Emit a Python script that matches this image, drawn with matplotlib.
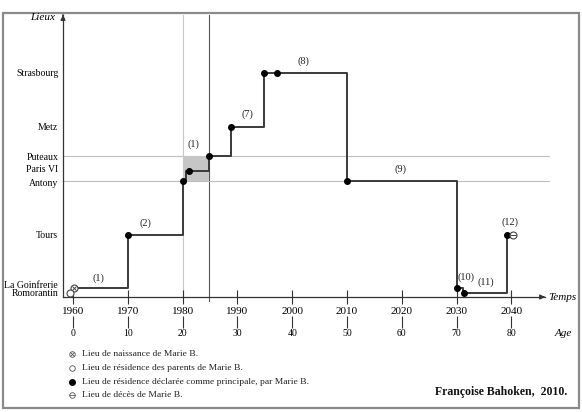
"""
Trajectoire résidentielle de Marie B. (lieux x temps / âge).
"""
import numpy as np
import matplotlib.pyplot as plt
from matplotlib.patches import Rectangle

plt.rcParams["font.family"] = ["Liberation Serif", "DejaVu Serif"]

# ---- data ----
places = ["Romorantin", "La Goinfrerie", "Tours", "Antony", "Paris VI", "Puteaux", "Metz", "Strasbourg"]
place_level = [4, 9, 62, 116, 126, 141, 170, 224]   # uneven place scale
LV = dict(zip(places, place_level))

# residential path (year of move, place)
path_years = [1960, 1970, 1980, 1980.6, 1984.8, 1988.8, 1994.9, 2010, 2030, 2031.2, 2039.2]
path_places = ["La Goinfrerie", "Tours", "Antony", "Paris VI", "Puteaux", "Metz",
               "Strasbourg", "Antony", "La Goinfrerie", "Romorantin", "Tours"]

# declared main residences
main_years = [1970, 1980, 1981.2, 1984.8, 1988.8, 1994.9, 1997.2, 2010, 2030, 2031.4, 2039.2]
main_places = ["Tours", "Antony", "Paris VI", "Puteaux", "Metz", "Strasbourg",
               "Strasbourg", "Antony", "La Goinfrerie", "Romorantin", "Tours"]

birth = (1960.2, "La Goinfrerie")
parents = (1959.5, "Romorantin")
death = (2040.3, "Tours")

seq_labels = ["(1)", "(2)", "(1)", "(7)", "(8)", "(9)", "(10)", "(11)", "(12)"]
seq_x = [1964.7, 1973.3, 1981.9, 1991.8, 2002.0, 2019.7, 2031.7, 2035.4, 2039.7]
seq_y = [14, 69, 148, 178, 231, 123, 15, 10, 70]

years = np.arange(1960, 2041, 10)
birth_year = 1960

legend_txt = ["Lieu de naissance de Marie B.",
              "Lieu de résidence des parents de Marie B.",
              "Lieu de résidence déclarée comme principale, par Marie B.",
              "Lieu de décès de Marie B."]

# ---- figure ----
W, H = 582, 412
fig = plt.figure(figsize=(W / 100, H / 100), dpi=100)
x0, x1, yb, yt = 63, 545, 297, 15
ax = fig.add_axes([x0 / W, 1 - yb / H, (x1 - x0) / W, (yb - yt) / H])
ppy = 5.48  # pixels per year
ax.set_xlim(1960 - (73 - x0) / ppy, 1960 + (x1 - 73) / ppy)
ax.set_ylim(0, yb - yt)

# outer frame
fig.add_artist(Rectangle((3 / W, 1 - 408 / H), 576 / W, 395 / H, transform=fig.transFigure,
                         fill=False, edgecolor="#8a8a8a", lw=1.6))

# reference lines and shaded block
ax.axvline(1980, color="#c8c8c8", lw=0.8, zorder=1)
ax.plot([1984.8, 1984.8], [-4, 282], color="#555555", lw=0.8, zorder=1, clip_on=False)
xr = ax.get_xlim()
for p in ["Puteaux", "Antony"]:
    ax.plot([xr[0], xr[1] + 0.7], [LV[p], LV[p]], color="#bdbdbd", lw=0.8, zorder=1, clip_on=False)
ax.add_patch(Rectangle((1980, LV["Antony"]), 4.8, LV["Puteaux"] - LV["Antony"],
                       facecolor="#c6c6c6", edgecolor="none", zorder=1.5))

# path
ax.step(path_years, [LV[p] for p in path_places], where="post", color="#3a3a3a", lw=1.4, zorder=3)
ax.scatter(main_years, [LV[p] for p in main_places], s=16, color="black", zorder=4)

# birth / parents / death symbols
ax.plot(birth[0], LV[birth[1]], marker="o", ms=5, mfc="white", mec="#444", mew=0.8, zorder=5, clip_on=False)
ax.plot(birth[0], LV[birth[1]], marker="x", ms=3, mec="#444", mew=0.7, zorder=6, clip_on=False)
ax.plot(parents[0], LV[parents[1]], marker="o", ms=5, mfc="white", mec="#444", mew=0.8, zorder=5, clip_on=False)
ax.plot(death[0], LV[death[1]], marker="o", ms=5, mfc="white", mec="#444", mew=0.8, zorder=5)
ax.plot(death[0], LV[death[1]], marker="_", ms=5, mec="#444", mew=0.7, zorder=6)

for s, x, y in zip(seq_labels, seq_x, seq_y):
    ax.text(x, y, s, fontsize=7.5, ha="center", va="bottom", color="#222")

# axes styling
for s in ["top", "right"]:
    ax.spines[s].set_visible(False)
for s in ["left", "bottom"]:
    ax.spines[s].set_color("#333")
    ax.spines[s].set_linewidth(0.9)

ax.set_yticks([LV[p] + d for p, d in zip(places, [0, 3, 0, -1, 2, 0, 0, 0])])
ax.set_yticklabels(places, fontsize=7)
ax.tick_params(axis="y", length=0, pad=3.5)

ax.set_xticks(years)
ax.set_xticklabels([str(y) for y in years], fontsize=8)
ax.tick_params(axis="x", direction="inout", length=10, width=0.8, color="#333", pad=2)

age_ax = ax.secondary_xaxis(-25 / (yb - yt), functions=(lambda y: y - birth_year, lambda a: a + birth_year))
age_ax.set_xticks(years - birth_year)
age_ax.spines["bottom"].set_visible(False)
age_ax.tick_params(direction="inout", length=8, width=0.8, color="#333", pad=1, labelsize=7)

# axis arrows and names
ax.annotate("", xy=(1, 0), xytext=(0.99, 0), xycoords="axes fraction",
            arrowprops=dict(arrowstyle="-|>", color="#333", lw=0.9, mutation_scale=7), annotation_clip=False)
ax.annotate("", xy=(0, 1), xytext=(0, 0.99), xycoords="axes fraction",
            arrowprops=dict(arrowstyle="-|>", color="#333", lw=0.9, mutation_scale=7), annotation_clip=False)
fig.text(548 / W, 1 - 297 / H, "Temps", fontsize=8, style="italic", va="center", ha="left")
fig.text(555 / W, 1 - 333 / H, "Age", fontsize=8, style="italic", va="center", ha="left")
fig.text(55 / W, 1 - 18 / H, "Lieux", fontsize=8, style="italic", va="center", ha="right")

# legend
ly = [354, 368, 382, 395]
for y, t in zip(ly, legend_txt):
    fig.text(82 / W, 1 - y / H, t, fontsize=6.8, va="center", ha="left", color="#222")
fig.add_artist(plt.Line2D([72 / W], [1 - ly[0] / H], marker="o", ms=4, mfc="white", mec="#555", mew=0.6))
fig.add_artist(plt.Line2D([72 / W], [1 - ly[0] / H], marker="x", ms=2.5, mec="#555", mew=0.6))
fig.add_artist(plt.Line2D([72 / W], [1 - ly[1] / H], marker="o", ms=4, mfc="white", mec="#555", mew=0.6))
fig.add_artist(plt.Line2D([72 / W], [1 - ly[2] / H], marker="o", ms=4, mfc="black", mec="black"))
fig.add_artist(plt.Line2D([72 / W], [1 - ly[3] / H], marker="o", ms=4, mfc="white", mec="#555", mew=0.6))
fig.add_artist(plt.Line2D([72 / W], [1 - ly[3] / H], marker="_", ms=4, mec="#555", mew=0.6))

fig.text(567 / W, 1 - 392 / H, "Françoise Bahoken,  2010.", fontsize=8.5, va="center", ha="right",
         color="#111", fontweight="bold")

fig.savefig("out.png", dpi=100)
